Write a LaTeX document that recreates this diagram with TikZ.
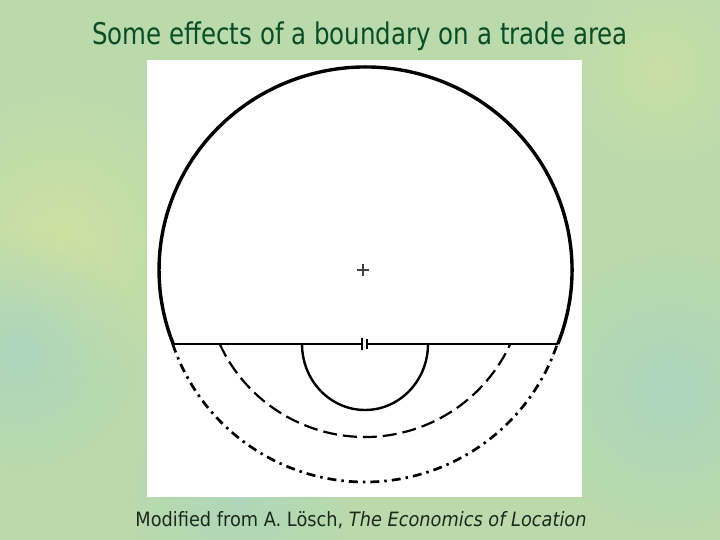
\documentclass[tikz,border=0pt]{standalone}
\usepackage{fontspec}
\usetikzlibrary{fadings}
\newfontfamily\titlefont[FakeStretch=0.82]{DejaVu Sans}
\newfontfamily\capfont[FakeStretch=0.9]{DejaVu Sans}
\definecolor{bgbase}{RGB}{186,218,172}
\definecolor{bgyel}{RGB}{210,226,160}
\definecolor{bgblue}{RGB}{168,212,194}
\definecolor{titlegreen}{RGB}{10,78,40}
\definecolor{capink}{RGB}{28,40,30}
\tikzfading[name=blob,inner color=transparent!0,outer color=transparent!100]
\begin{document}
\begin{tikzpicture}[x=1bp,y=1bp,
  rim/.style={line width=3.4bp,black},
  border/.style={line width=2.8bp,black},
  inner/.style={line width=2.4bp,black},
  midline/.style={line width=2.2bp,black,dash pattern=on 14bp off 6bp},
  outline/.style={line width=2.7bp,black,dash pattern=on 9bp off 5bp on 2.5bp off 5bp},
  titletext/.style={anchor=base,text=titlegreen,font=\titlefont\fontsize{30}{36}\selectfont,inner sep=0pt},
  captext/.style={anchor=base,text=capink,font=\capfont\fontsize{19.8}{23}\selectfont,inner sep=0pt}]
\useasboundingbox (0,0) rectangle (720,540);
% background
\fill[bgbase] (0,0) rectangle (720,540);
\fill[bgyel,path fading=blob,opacity=0.8] (60,300) circle (160);
\fill[bgyel,path fading=blob,opacity=0.6] (660,470) circle (110);
\fill[bgblue,path fading=blob,opacity=0.8] (20,190) circle (120);
\fill[bgblue,path fading=blob,opacity=0.8] (670,150) circle (140);
\fill[bgblue,path fading=blob,opacity=0.6] (240,40) circle (110);
% white panel
\fill[white] (147,43) rectangle (582,480);
% key points
\coordinate (BL) at (173.2,196);
\coordinate (BR) at (557.8,196);
\coordinate (GL) at (362,196);
\coordinate (GR) at (367,196);
\coordinate (DL) at (172.7,196);
\coordinate (ML) at (219.7,196);
\coordinate (IL) at (302,196);
\coordinate (P) at (363,270);
% outer circle (upper part)
\draw[rim] (BR) arc[start angle=-21.38,end angle=201.38,x radius=206.5,y radius=203];
% boundary line with gap marker
\draw[border] (BL) -- (GL);
\draw[border] (GR) -- (BR);
\draw[line width=2.6bp] ([yshift=-6.5bp]GL) -- ([yshift=6bp]GL);
\draw[line width=1.4bp] ([yshift=-5bp]GR) -- ([yshift=5bp]GR);
% lower arcs
\draw[outline] (DL) arc[start angle=198.68,end angle=341.32,radius=203];
\draw[midline] (ML) arc[start angle=204.76,end angle=335.24,radius=160];
\draw[inner] (IL) arc[start angle=180,end angle=360,x radius=63,y radius=66];
% centre mark
\draw[line width=1.5bp,black!75] ([xshift=-6bp]P) -- ([xshift=6bp]P);
\draw[line width=1.5bp,black!75] ([yshift=-6bp]P) -- ([yshift=6bp]P);
% texts
\node[titletext] (title) at (360,495) {Some effects of a boundary on a trade area};
\node[captext] (caption) at (361,13) {Modified from A. L\"osch, {\itshape The Economics of Location}};
\end{tikzpicture}
\end{document}
